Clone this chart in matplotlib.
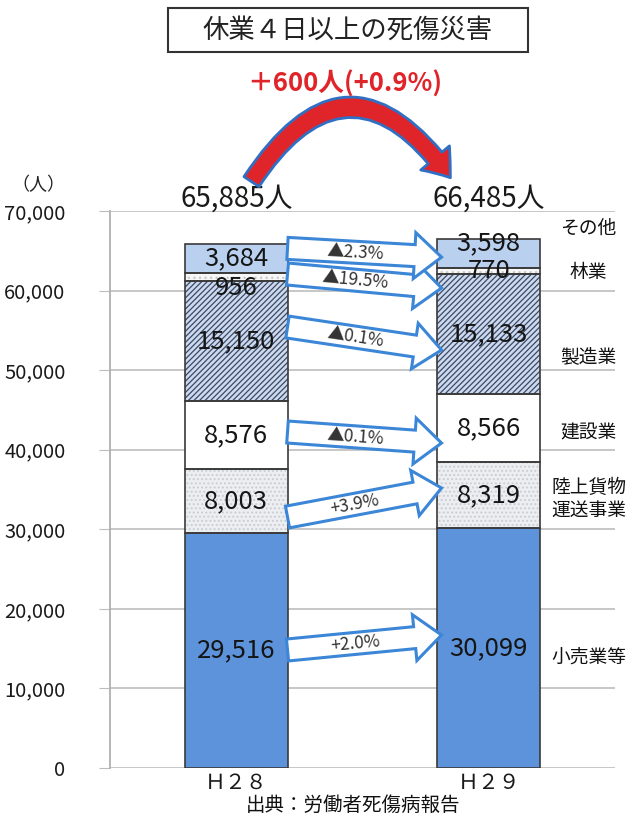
import numpy as np
import matplotlib
matplotlib.use("Agg")
import matplotlib.pyplot as plt
from matplotlib.patches import Polygon, FancyArrowPatch, Rectangle
from matplotlib.transforms import IdentityTransform
from matplotlib.ticker import FuncFormatter

plt.rcParams['font.family'] = ['Noto Sans CJK JP', 'DejaVu Sans']
plt.rcParams['hatch.linewidth'] = 0.9

# 年次と業種別の死傷者数（下から積み上げ順）
years = ['Ｈ２８', 'Ｈ２９']
industries = ['小売業等', '陸上貨物\n運送事業', '建設業', '製造業', '林業', 'その他']
h28 = [29516, 8003, 8576, 15150, 956, 3684]
h29 = [30099, 8319, 8566, 15133, 770, 3598]
changes = ['+2.0%', '+3.9%', '▲0.1%', '▲0.1%', '▲19.5%', '▲2.3%']

# 見た目の設定
face = ['#5d93da', '#eceef2', '#ffffff', '#cdd9ec', '#f7f7f7', '#b9d1ee']
hatch = [None, '....', None, '//////', '...', None]
hatch_col = [None, '#c9cdd3', None, '#3a4866', '#c8c8c8', None]
label_nudge = [0, 0, 0, 0, -8, 0]          # 1年目のラベル位置調整(pt)
label_nudge2 = [0, 0, 0, 0, 0, 7]          # 2年目
cat_y = [13950, 33800, 42100, 51650, 62330, 67860]  # 右側の業種名の位置
arrow_y = [(14830, 16710), (31540, 35190), (42225, 40840),
           (55420, 52530), (62080, 60320), (65300, 64200)]

W, H = 634, 819
fig = plt.figure(figsize=(W / 100, H / 100), dpi=100)
ax = fig.add_axes([110 / W, 1 - 768 / H, 505 / W, 557 / H])

x = np.arange(len(years))
bw = 0.406
data = np.array([h28, h29])
cum = np.zeros(2)
for i in range(len(industries)):
    vals = data[:, i]
    if hatch[i]:
        ax.bar(x, vals, bw, bottom=cum, color=face[i], hatch=hatch[i],
               edgecolor=hatch_col[i], linewidth=0, zorder=2)
    else:
        ax.bar(x, vals, bw, bottom=cum, color=face[i], linewidth=0, zorder=2)
    ax.bar(x, vals, bw, bottom=cum, fill=False, edgecolor='#3a3a3a',
           linewidth=1.2, zorder=3)
    for j in range(2):
        dy = label_nudge[i] if j == 0 else label_nudge2[i]
        ax.annotate(f'{vals[j]:,}', (x[j], cum[j] + vals[j] / 2),
                    xytext=(0, dy), textcoords='offset points',
                    ha='center', va='center', fontsize=18.5, color='#151515',
                    zorder=5)
    ax.text(1.395, cat_y[i], industries[i], ha='center', va='center',
            fontsize=13.5, color='#111111', linespacing=1.15)
    cum = cum + vals

totals = data.sum(axis=1)
for j in range(2):
    ax.text(x[j], 71500, f'{totals[j]:,}人', ha='center', va='center',
            fontsize=20, color='#1a1a1a', clip_on=False)

ax.set_xlim(-0.5, 1.5)
ax.set_ylim(0, 70000)
ax.set_yticks(np.arange(0, 70001, 10000))
ax.yaxis.set_major_formatter(FuncFormatter(lambda v, p: f'{int(v):,}'))
ax.tick_params(axis='y', length=8, color='#bdbdbd', pad=24, labelsize=14.5,
               labelcolor='#1a1a1a')
ax.set_xticks(x)
ax.set_xticklabels(years, fontsize=15, color='#1a1a1a')
ax.tick_params(axis='x', length=0, pad=3)
ax.grid(axis='y', color='#c3c3c3', linewidth=1.3)
ax.set_axisbelow(True)
for s in ['top', 'right', 'bottom']:
    ax.spines[s].set_visible(False)
ax.spines['left'].set_color('#b0b0b0')
ax.spines['left'].set_linewidth(1.3)


def block_arrow(x0, y0, x1, y1, text):
    p0 = ax.transData.transform((x0, y0))
    p1 = ax.transData.transform((x1, y1))
    d = (p1 - p0) / np.hypot(*(p1 - p0))
    n = np.array([-d[1], d[0]])
    sw, hw, hl = 11, 23, 27
    pb = p1 - d * hl
    pts = [p0 + n * sw, pb + n * sw, pb + n * hw, p1,
           pb - n * hw, pb - n * sw, p0 - n * sw]
    fig.add_artist(Polygon(pts, closed=True, facecolor='white',
                           edgecolor='#3b86d6', linewidth=2.2,
                           transform=IdentityTransform(), zorder=4))
    mid = (p0 + pb) / 2 + d * 4
    ang = np.degrees(np.arctan2(d[1], d[0]))
    fig.text(mid[0] / W, mid[1] / H, text, ha='center', va='center',
             rotation=ang, rotation_mode='anchor', fontsize=12.5,
             color='#333333', zorder=6)


for i in range(len(industries)):
    block_arrow(bw / 2, arrow_y[i][0], 1 - bw / 2 + 0.016, arrow_y[i][1],
                changes[i])

# 全体の増減を示す曲線矢印
curve = FancyArrowPatch((250 / W, 1 - 184 / H), (452 / W, 1 - 180 / H),
                        connectionstyle='arc3,rad=-0.74',
                        arrowstyle='simple,tail_width=13,head_width=27,head_length=18',
                        facecolor='#e0252a', edgecolor='#2f6fc4', linewidth=2,
                        transform=fig.transFigure, zorder=3)
fig.add_artist(curve)

diff = totals[1] - totals[0]
fig.text(345 / W, 1 - 84 / H, f'＋{diff}人(+{diff / totals[0] * 100:.1f}%)',
         ha='center', va='center', fontsize=18.5, fontweight='bold',
         color='#e0252a')

# タイトル枠
fig.add_artist(Rectangle((168 / W, 1 - 52 / H), 360 / W, 44 / H,
                         transform=fig.transFigure, facecolor='white',
                         edgecolor='#333333', linewidth=1.5))
fig.text(348 / W, 1 - 30 / H, '休業４日以上の死傷災害', ha='center',
         va='center', fontsize=19, color='#222222')

fig.text(38 / W, 1 - 185 / H, '（人）', ha='center', va='center',
         fontsize=13, color='#222222')
fig.text(353 / W, 1 - 805 / H, '出典：労働者死傷病報告', ha='center',
         va='center', fontsize=14, color='#111111')

fig.savefig('out.png', dpi=100)
